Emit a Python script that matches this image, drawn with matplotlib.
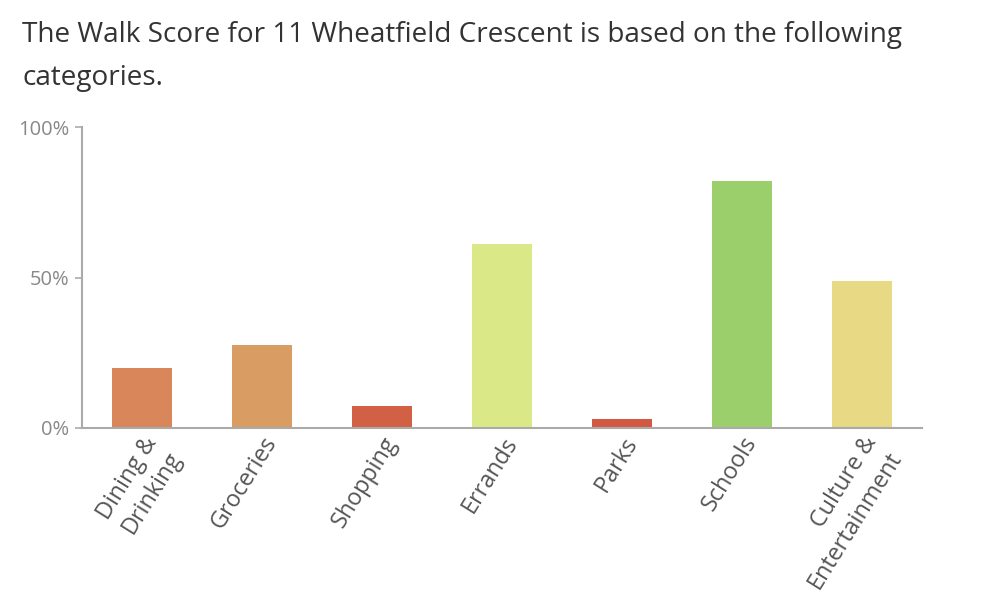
import matplotlib.pyplot as plt

plt.rcParams['font.family'] = ['Open Sans', 'DejaVu Sans']

categories = ['Dining &\nDrinking', 'Groceries', 'Shopping', 'Errands',
              'Parks', 'Schools', 'Culture &\nEntertainment']
scores = [20, 27.5, 7.3, 61, 3, 82, 49]
colors = ['#d9865a', '#d99c63', '#d26045', '#dbe887',
          '#d35842', '#9bcf6c', '#e8d985']
yticks = [0, 50, 100]
ylabels = ['0%', '50%', '100%']

fig = plt.figure(figsize=(10.06, 6.04), dpi=100)
ax = fig.add_axes([0.0815, 0.2914, 0.835, 0.4983])

x = range(len(categories))
ax.bar(x, scores, width=0.5, color=colors)

ax.set_xlim(-0.5, len(categories) - 0.5)
ax.set_ylim(0, 100)
ax.set_yticks(yticks)
ax.set_yticklabels(ylabels, color='#888888', fontsize=14.5)
ax.set_xticks(list(x))
ax.set_xticklabels(categories, rotation=58, ha='right', va='top',
                   rotation_mode='anchor', multialignment='right',
                   color='#555555', fontsize=16.8, linespacing=1.25)

for side in ['top', 'right']:
    ax.spines[side].set_visible(False)
for side in ['left', 'bottom']:
    ax.spines[side].set_color('#aaaaaa')
    ax.spines[side].set_linewidth(1.5)
ax.tick_params(axis='y', length=5, width=1.2, color='#aaaaaa', pad=4)
ax.tick_params(axis='x', length=0, pad=3)

fig.text(22 / 1006, 1 - 21 / 604,
         'The Walk Score for 11 Wheatfield Crescent is based on the following\ncategories.',
         ha='left', va='top', fontsize=20.1, color='#333333', linespacing=1.7)

fig.savefig('out.png', dpi=100)
